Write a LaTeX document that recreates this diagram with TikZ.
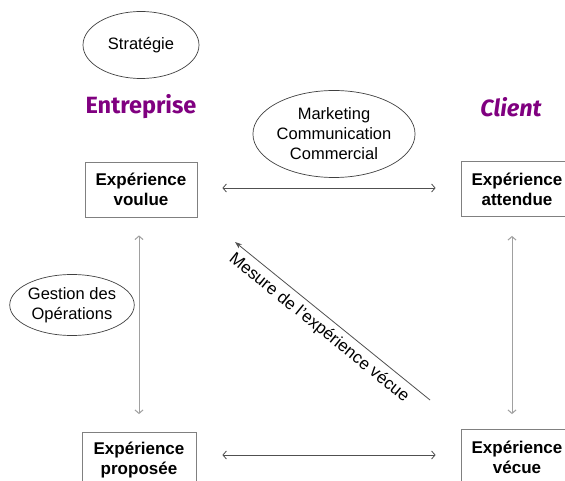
\documentclass[tikz,border=0pt]{standalone}
\usepackage{fontspec}
\setmainfont{Liberation Sans}
\newfontfamily\titlefont{Fira Sans}
\usetikzlibrary{shapes.geometric,arrows.meta}
\definecolor{purp}{HTML}{800080}
\definecolor{boxc}{HTML}{808080}
\definecolor{ovalc}{HTML}{404040}
\definecolor{hline}{HTML}{505050}
\definecolor{vline}{HTML}{A0A0A0}
\begin{document}
\begin{tikzpicture}[x=1pt,y=-1pt,
  >={Straight Barb[length=3.5pt,width=8pt]},
  expbox/.style={draw=boxc, line width=0.8pt, minimum width=112pt, minimum height=55pt, inner sep=0pt, align=center, font=\fontsize{17}{20}\selectfont\bfseries},
  oval/.style={ellipse, draw=ovalc, line width=0.7pt, inner sep=0pt, align=center, font=\fontsize{16.5}{20}\selectfont},
  titletext/.style={text=purp, font=\titlefont\bfseries\fontsize{23.5}{27}\selectfont},
  hlink/.style={draw=hline, line width=0.8pt, <->},
  vlink/.style={draw=vline, line width=1pt, <->, draw=vline},
]
\clip (0,0) rectangle (565,481);
\fill[white] (0,0) rectangle (565,481);

% ellipses
\node[oval, minimum width=116pt, minimum height=67pt] (strat) at (141,45) {Stratégie};
\node[oval, minimum width=138pt, minimum height=87pt] (mkt) at (334,134) {Marketing\\Communication\\Commercial};
\node[oval, minimum width=120pt, minimum height=61pt] (gest) at (72,305) {Gestion des\\Opérations};

% titles
\node[titletext] (entr) at (141,107) {Entreprise};
\node[titletext, font=\titlefont\bfseries\itshape\fontsize{23.5}{27}\selectfont] (cli) at (511,107) {Client};

% boxes
\node[expbox] (voulue) at (141,189.5) {Expérience\\voulue};
\node[expbox] (attendue) at (517,189) {Expérience\\attendue};
\node[expbox, minimum width=114pt] (proposee) at (139,460) {Expérience\\proposée};
\node[expbox] (vecue) at (517,457) {Expérience\\vécue};

% connectors (yshift is in canvas direction: positive = up)
\draw[hlink, shorten <=25pt, shorten >=25pt] ([yshift=1.5pt]voulue.east) -- ([yshift=1pt]attendue.west);
\draw[hlink, shorten <=26pt, shorten >=25pt] ([yshift=5pt]proposee.east) -- ([yshift=2pt]vecue.west);
\draw[vlink, shorten <=18pt, shorten >=18pt] ([xshift=-2pt]voulue.south) -- (proposee.north);
\draw[vlink, shorten <=19pt, shorten >=15pt] ([xshift=-5pt]attendue.south) -- ([xshift=-5pt]vecue.north);

\coordinate (m1) at (430,400);
\coordinate (m2) at (235,242);
\draw[draw=hline, line width=0.8pt, -{Stealth[length=7pt,width=5pt]}] (m1) -- (m2);
\node[rotate=-39, font=\fontsize{17}{20}\selectfont] (mesure) at (319,328) {Mesure de l'expérience vécue};
\end{tikzpicture}
\end{document}
